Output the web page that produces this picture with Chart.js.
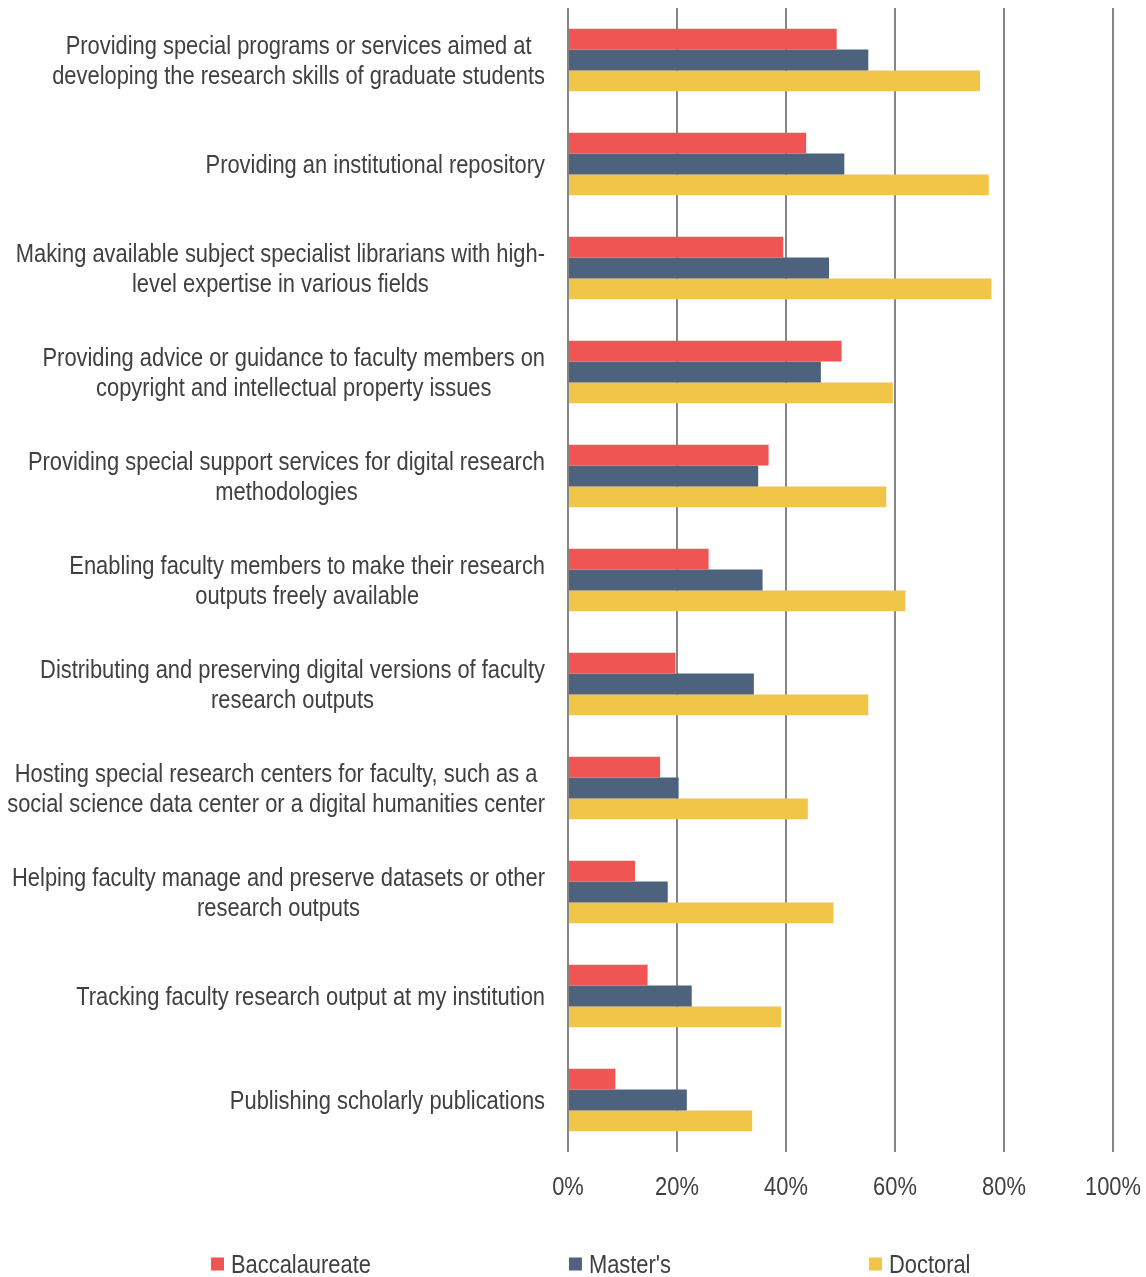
<!DOCTYPE html>
<html>
<head>
<meta charset="utf-8">
<script src="https://cdn.jsdelivr.net/npm/chart.js@4.4.1/dist/chart.umd.min.js"></script>
<style>
  html, body { margin: 0; padding: 0; background: #fff; }
  #wrap { width: 1146px; height: 1277px; }
</style>
</head>
<body>
<div id="wrap"><canvas id="myChart" width="1146" height="1277"></canvas></div>
<script>
const categories = [
    ['Providing special programs or services aimed at', 'developing the research skills of graduate students'],
    ['Providing an institutional repository'],
    ['Making available subject specialist librarians with high-', 'level expertise in various fields'],
    ['Providing advice or guidance to faculty members on', 'copyright and intellectual property issues'],
    ['Providing special support services for digital research', 'methodologies'],
    ['Enabling faculty members to make their research', 'outputs freely available'],
    ['Distributing and preserving digital versions of faculty', 'research outputs'],
    ['Hosting special research centers for faculty, such as a', 'social science data center or a digital humanities center'],
    ['Helping faculty manage and preserve datasets or other', 'research outputs'],
    ['Tracking faculty research output at my institution'],
    ['Publishing scholarly publications']
];

const baccalaureate = [49.3, 43.7, 39.5, 50.2, 36.8, 25.8, 19.7, 16.9, 12.3, 14.6, 8.7];
const masters = [55.1, 50.7, 47.9, 46.4, 34.9, 35.7, 34.1, 20.3, 18.3, 22.7, 21.8];
const doctoral = [75.6, 77.2, 77.7, 59.6, 58.4, 61.9, 55.1, 44.0, 48.7, 39.1, 33.8];

const seriesNames = ['Baccalaureate', "Master's", 'Doctoral'];
const seriesColors = ['#EF5552', '#4C627D', '#F0C548'];
const xTicks = [0, 20, 40, 60, 80, 100];

// narrow sans: regular Liberation Sans squeezed horizontally
const FONT = "26.5px 'Liberation Sans', Arial, sans-serif";
const SQUEEZE = 0.826;
const TEXT = '#404040';

function narrowText(ctx, text, x, y, align) {
    ctx.save();
    ctx.translate(x, y);
    ctx.scale(SQUEEZE, 1);
    ctx.textAlign = align;
    ctx.fillText(text, 0, 0);
    ctx.restore();
}

function narrowWidth(ctx, text) {
    return ctx.measureText(text).width * SQUEEZE;
}

// category labels: block right-aligned against the axis, lines centred inside it
const categoryLabels = {
    id: 'categoryLabels',
    afterDraw(chart) {
        const ctx = chart.ctx;
        const y = chart.scales.y;
        const right = chart.chartArea.left - 23;
        ctx.save();
        ctx.font = FONT;
        ctx.fillStyle = TEXT;
        ctx.textBaseline = 'middle';
        categories.forEach((lines, i) => {
            const cy = y.getPixelForTick(i) + 2;
            const w = Math.max(...lines.map(l => narrowWidth(ctx, l)));
            const cx = right - w / 2;
            lines.forEach((l, j) => {
                narrowText(ctx, l, cx, cy + (j - (lines.length - 1) / 2) * 30, 'center');
            });
        });
        ctx.restore();
    }
};

// percentage labels under the grid lines
const percentLabels = {
    id: 'percentLabels',
    afterDraw(chart) {
        const ctx = chart.ctx;
        const x = chart.scales.x;
        ctx.save();
        ctx.font = FONT;
        ctx.fillStyle = TEXT;
        ctx.textBaseline = 'middle';
        xTicks.forEach(v => {
            narrowText(ctx, v + '%', x.getPixelForValue(v), chart.chartArea.bottom + 36, 'center');
        });
        ctx.restore();
    }
};

// legend row along the bottom
const bottomLegend = {
    id: 'bottomLegend',
    afterDraw(chart) {
        const ctx = chart.ctx;
        ctx.save();
        ctx.font = FONT;
        ctx.textBaseline = 'middle';
        const box = 13, gap = 7, spacing = 198;
        const cy = 1264;
        let x = 211;
        chart.data.datasets.forEach(ds => {
            ctx.fillStyle = ds.backgroundColor;
            ctx.fillRect(x, cy - box / 2, box, box);
            ctx.fillStyle = TEXT;
            narrowText(ctx, ds.label, x + box + gap, cy + 2, 'left');
            x += box + gap + narrowWidth(ctx, ds.label) + spacing;
        });
        ctx.restore();
    }
};

const ctx = document.getElementById('myChart').getContext('2d');
new Chart(ctx, {
    type: 'bar',
    data: {
        labels: categories,
        datasets: [
            { label: seriesNames[0], data: baccalaureate, backgroundColor: seriesColors[0] },
            { label: seriesNames[1], data: masters, backgroundColor: seriesColors[1] },
            { label: seriesNames[2], data: doctoral, backgroundColor: seriesColors[2] }
        ]
    },
    options: {
        indexAxis: 'y',
        responsive: false,
        animation: false,
        devicePixelRatio: 1,
        categoryPercentage: 0.6,
        barPercentage: 1.0,
        layout: { padding: { top: 8, left: 0, right: 0, bottom: 77 } },
        plugins: {
            legend: { display: false },
            tooltip: { enabled: false }
        },
        scales: {
            x: {
                min: 0,
                max: 100,
                afterBuildTicks(scale) {
                    scale.ticks = xTicks.map(v => ({ value: v }));
                },
                grid: { color: '#858585', lineWidth: 2, drawTicks: false },
                border: { display: false },
                ticks: { display: false },
                afterFit(scale) {
                    scale.height = 48;
                    scale.paddingLeft = 0;
                    scale.paddingRight = 33;
                }
            },
            y: {
                grid: { display: false },
                border: { display: false },
                ticks: { display: false },
                afterFit(scale) { scale.width = 568; }
            }
        }
    },
    plugins: [categoryLabels, percentLabels, bottomLegend]
});
</script>
</body>
</html>
